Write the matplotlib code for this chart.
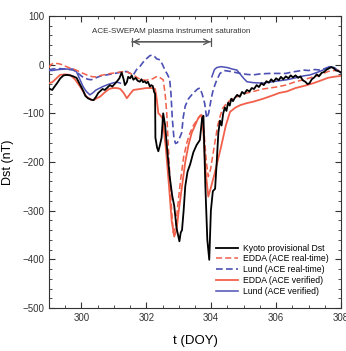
import numpy as np
import matplotlib
matplotlib.use("Agg")
import matplotlib.pyplot as plt
from matplotlib.ticker import MultipleLocator

plt.rcParams['font.family'] = ['Liberation Sans', 'DejaVu Sans']

# Kyoto provisional Dst
kyoto_t = [299.0, 299.1, 299.15, 299.25, 299.35, 299.45, 299.55, 299.65, 299.75, 299.85,
           299.95, 300.05, 300.12, 300.2, 300.3, 300.37, 300.45, 300.52, 300.57, 300.65,
           300.72, 300.8, 300.88, 300.95, 301.02, 301.1, 301.17, 301.24, 301.3, 301.34,
           301.4, 301.44, 301.5, 301.55, 301.6, 301.67, 301.73, 301.8, 301.85, 301.9,
           301.95, 302.0, 302.05, 302.11, 302.15, 302.2, 302.24, 302.27, 302.28, 302.33,
           302.37, 302.42, 302.47, 302.52, 302.58, 302.65, 302.72, 302.8, 302.86, 302.93,
           302.98, 303.02, 303.06, 303.1, 303.15, 303.2, 303.27, 303.35, 303.45, 303.55,
           303.65, 303.72, 303.76, 303.82, 303.88, 303.94, 303.99, 304.05, 304.12, 304.17,
           304.22, 304.27, 304.32, 304.37, 304.42, 304.47, 304.52, 304.57, 304.62, 304.67,
           304.73, 304.8, 304.88, 304.95, 305.02, 305.1, 305.18, 305.25, 305.32, 305.4,
           305.47, 305.55, 305.62, 305.7, 305.78, 305.85, 305.92, 306.0, 306.08, 306.15,
           306.22, 306.3, 306.38, 306.45, 306.52, 306.6, 306.68, 306.75, 306.82, 306.9,
           306.97, 307.03, 307.1, 307.18, 307.25, 307.32, 307.4, 307.48, 307.56, 307.62,
           307.7, 307.77, 307.85, 307.92, 308.0]
kyoto_v = [-49, -52, -47, -38, -28, -22, -21, -22, -24, -27,
           -40, -53, -64, -69, -72, -73, -66, -58, -55, -50,
           -52, -47, -42, -45, -40, -34, -28, -16, -30, -42,
           -36, -25, -28, -22, -31, -27, -33, -35, -30, -36,
           -34, -38, -35, -45, -42, -44, -56, -60, -150, -170,
           -178, -165, -150, -100, -125, -180, -230, -270, -290, -335,
           -350, -363, -345, -340, -300, -250, -220, -205, -180, -165,
           -155, -110, -105, -250, -360, -401, -300, -260, -255, -200,
           -140, -115, -125, -100, -88, -95, -78, -84, -70, -75,
           -68, -62, -66, -56, -60, -52, -55, -48, -50, -42,
           -46, -38, -42, -34, -37, -30, -35, -28, -32, -25,
           -30, -24, -28, -22, -26, -22, -27, -24, -32, -35,
           -40, -38, -30, -26, -20, -24, -17, -15, -10, -8,
           -5, -7, -12, -13, -16]

# EDDA with ACE real-time data
edda_rt_t = [299.0, 299.05, 299.15, 299.3, 299.4, 299.5, 299.65, 299.8, 299.95, 300.06,
             300.2, 300.35, 300.47, 300.6, 300.75, 300.9, 301.05, 301.2, 301.35, 301.45,
             301.6, 301.75, 301.85, 302.0, 302.1, 302.2, 302.3, 302.37, 302.45, 302.52,
             302.58, 302.63, 302.68, 302.73, 302.78, 302.83, 302.9, 302.97, 303.05, 303.15,
             303.25, 303.35, 303.45, 303.55, 303.65, 303.72, 303.78, 303.85, 303.91, 303.98,
             304.1, 304.2, 304.27, 304.35, 304.48, 304.6, 304.79, 305.0, 305.3, 305.6,
             306.0, 306.3, 306.6, 306.9, 307.15, 307.4, 307.6, 307.8, 308.0]
edda_rt_v = [-6, 0, 3, 2, 0, -3, -7, -10, -15, -18,
             -22, -25, -25, -22, -20, -18, -17, -15, -14, -16,
             -21, -28, -31, -32, -30, -29, -25, -24, -28, -31,
             -60, -100, -170, -237, -300, -345, -335, -290, -240, -190,
             -160, -140, -125, -115, -105, -103, -140, -200, -230, -215,
             -165, -125, -107, -90, -79, -72, -66, -60, -55, -50,
             -46, -42, -35, -30, -25, -20, -14, -12, -11]

# Lund with ACE real-time data
lund_rt_t = [299.0, 299.1, 299.3, 299.5, 299.75, 299.9, 300.05, 300.2, 300.3, 300.45,
             300.6, 300.78, 300.95, 301.1, 301.25, 301.4, 301.5, 301.6, 301.7, 301.8,
             301.9, 302.0, 302.1, 302.17, 302.25, 302.32, 302.42, 302.5, 302.58, 302.65,
             302.72, 302.76, 302.8, 302.85, 302.9, 302.96, 303.03, 303.09, 303.14, 303.2,
             303.3, 303.4, 303.5, 303.58, 303.65, 303.72, 303.8, 303.86, 303.92, 304.0,
             304.06, 304.15, 304.27, 304.4, 304.6, 304.9, 305.1, 305.3, 305.5, 305.8,
             306.1, 306.3, 306.5, 306.7, 306.83, 307.0, 307.2, 307.35, 307.5, 307.66,
             307.8, 307.9, 308.0]
lund_rt_v = [-11, -9, -8, -9, -11, -18, -26, -30, -31, -27,
             -23, -21, -19, -17, -15, -14, -18, -21, -10, -4,
             5, 12, 18, 20, 17, 12, 10, 0, -12, -20,
             -30, -60, -110, -150, -162, -160, -150, -140, -107, -85,
             -70, -62, -55, -50, -48, -60, -80, -110, -100, -70,
             -52, -35, -18, -12, -14, -18, -20, -21, -19, -18,
             -18, -18, -15, -13, -11, -12, -10, -11, -8, -4,
             -8, -12, -17]

# EDDA with ACE verified data
edda_v_t = [299.0, 299.1, 299.2, 299.34, 299.5, 299.65, 299.8, 299.96, 300.1, 300.16,
            300.3, 300.37, 300.5, 300.57, 300.7, 300.85, 300.98, 301.1, 301.2, 301.3,
            301.4, 301.5, 301.6, 301.8, 302.0, 302.2, 302.27, 302.32, 302.37, 302.42,
            302.5, 302.6, 302.7, 302.78, 302.86, 302.93, 303.0, 303.1, 303.2, 303.3,
            303.4, 303.5, 303.6, 303.7, 303.76, 303.83, 303.91, 303.98, 304.1, 304.3,
            304.45, 304.58, 304.75, 304.9, 305.1, 305.3, 305.6, 305.9, 306.1, 306.33,
            306.6, 306.9, 307.15, 307.4, 307.6, 307.77, 308.0]
edda_v_v = [-38, -36, -30, -21, -20, -21, -30, -45, -60, -66,
            -72, -73, -68, -66, -58, -50, -48, -48, -50, -58,
            -69, -60, -52, -50, -48, -48, -50, -70, -100, -103,
            -110, -170, -250, -320, -353, -340, -300, -250, -200, -165,
            -140, -125, -110, -103, -140, -220, -271, -255, -225, -170,
            -125, -97, -88, -83, -79, -76, -70, -63, -58, -55,
            -48, -43, -38, -32, -27, -25, -23]

# Lund with ACE verified data (no data during SWEPAM saturation)
lund_v_t = [299.0, 299.1, 299.3, 299.5, 299.74, 299.85, 299.95, 300.05, 300.15, 300.26,
            300.35, 300.45, 300.66, 300.85, 301.0, 301.1, 301.2, 301.25, 303.98, 304.02,
            304.1, 304.17, 304.3, 304.5, 304.65, 304.79, 304.9, 305.0, 305.1, 305.3,
            305.6, 305.9, 306.1, 306.33, 306.6, 306.85, 307.05, 307.3, 307.45, 307.66,
            307.8, 307.9, 308.0]
lund_v_v = [-12, -12, -10, -9, -9, -15, -30, -45, -55, -62,
            -58, -52, -45, -40, -37, -36, -38, np.nan, np.nan, -25,
            -10, -6, -4, -6, -9, -11, -20, -28, -35, -37,
            -38, -35, -33, -31, -27, -23, -21, -15, -11, -4,
            -6, -12, -17]

red = '#f0604a'
blue = '#4c50b4'

fig = plt.figure(figsize=(3.46, 3.51), dpi=100)
ax = fig.add_axes([0.1416, 0.1225, 0.8439, 0.8319])

ax.plot(kyoto_t, kyoto_v, color='black', lw=1.3, label='Kyoto provisional Dst', zorder=5)
ax.plot(edda_rt_t, edda_rt_v, color=red, lw=1.1, ls=(0, (4, 2)), label='EDDA (ACE real-time)', zorder=4)
ax.plot(lund_rt_t, lund_rt_v, color=blue, lw=1.2, ls=(0, (4, 2)), label='Lund (ACE real-time)', zorder=3)
ax.plot(edda_v_t, edda_v_v, color=red, lw=1.3, label='EDDA (ACE verified)', zorder=4)
ax.plot(lund_v_t, lund_v_v, color=blue, lw=1.1, label='Lund (ACE verified)', zorder=3)

ax.set_xlim(299, 308)
ax.set_ylim(-500, 100)
ax.xaxis.set_major_locator(MultipleLocator(2))
ax.xaxis.set_minor_locator(MultipleLocator(0.5))
ax.yaxis.set_major_locator(MultipleLocator(100))
ax.yaxis.set_minor_locator(MultipleLocator(20))
ax.tick_params(which='both', direction='in', top=True, right=True, labelsize=7, colors='#333333')
ax.tick_params(which='major', length=4)
ax.tick_params(which='minor', length=2)
for s in ax.spines.values():
    s.set_color('#333333')

ax.set_xlabel('t (DOY)', fontsize=9.5, labelpad=9)
ax.set_ylabel('Dst (nT)', fontsize=9, labelpad=6)

# saturation interval
ax.annotate('', xy=(301.55, 47), xytext=(304.0, 47),
            arrowprops=dict(arrowstyle='|-|,widthA=0.3,widthB=0.3', color='#555555', lw=0.9,
                            shrinkA=0, shrinkB=0))
ax.annotate('', xy=(301.57, 47), xytext=(303.98, 47),
            arrowprops=dict(arrowstyle='<->,head_length=0.4,head_width=0.2', color='#555555', lw=0.9,
                            shrinkA=0, shrinkB=0))
ax.text(302.78, 69, 'ACE-SWEPAM plasma instrument saturation', fontsize=5.8, ha='center', va='center',
        color='#333333')

ax.legend(loc='lower left', bbox_to_anchor=(0.55, 0.02), frameon=False, fontsize=6.2,
          handlelength=2.6, labelspacing=0.22, handletextpad=0.6, borderpad=0.2)

fig.savefig('out.png', dpi=100)
